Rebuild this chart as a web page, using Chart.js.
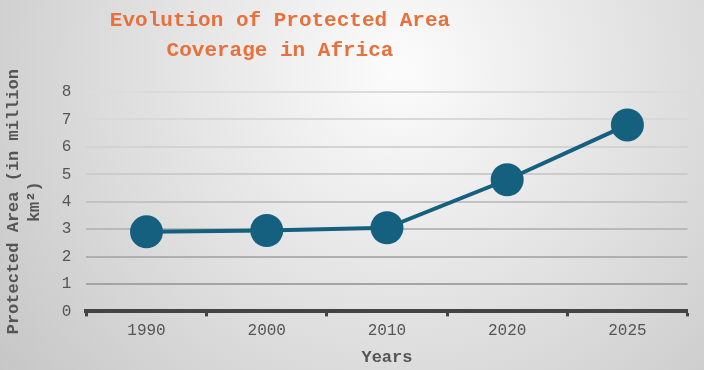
<!DOCTYPE html>
<html>
<head>
    <meta charset="UTF-8">
    <title>Protected Area Coverage</title>
    <script src="https://cdn.jsdelivr.net/npm/chart.js"></script>
    <style>
        html, body { margin: 0; padding: 0; }
        #wrap { width: 704px; height: 370px; }
    </style>
</head>
<body>
<div id="wrap"><canvas id="chart"></canvas></div>

<script>
    // data
    var years = ['1990', '2000', '2010', '2020', '2025'];
    var areaValues = [2.9, 2.95, 3.05, 4.8, 6.8];
    var titleLines = ['Evolution of Protected Area', 'Coverage in Africa'];
    var yTitleLines = ['Protected Area (in million', 'km²)'];

    var mono = "'Liberation Mono', 'Courier New', monospace";

    // radial grey background
    var bgPlugin = {
        id: 'bg',
        beforeDraw: function (chart) {
            var c = chart.ctx;
            var g = c.createRadialGradient(400, 70, 10, 400, 70, 520);
            g.addColorStop(0, '#fbfbfb');
            g.addColorStop(1, '#c4c4c4');
            c.save();
            c.fillStyle = g;
            c.fillRect(0, 0, chart.width, chart.height);
            c.restore();
        }
    };

    // chart title, centred left of middle like the original
    var titlePlugin = {
        id: 'titleText',
        afterDraw: function (chart) {
            var c = chart.ctx;
            c.save();
            c.fillStyle = '#e8703a';
            c.font = 'bold 21px ' + mono;
            c.textAlign = 'center';
            c.textBaseline = 'middle';
            for (var i = 0; i < titleLines.length; i++) {
                c.fillText(titleLines[i], 280, 21 + i * 30);
            }
            c.restore();
        }
    };

    var gridColors = ['#9a9a9a', '#a4a4a4', '#afafaf', '#b9b9b9', '#c3c3c3', '#cccccc', '#d3d3d3', '#d8d8d8', '#dcdcdc'];

    var ctx = document.getElementById('chart').getContext('2d');
    new Chart(ctx, {
        type: 'line',
        data: {
            labels: years,
            datasets: [{
                data: areaValues,
                borderColor: '#15607f',
                backgroundColor: '#15607f',
                borderWidth: 4,
                pointRadius: 16.5,
                pointHoverRadius: 16.5,
                pointBorderWidth: 0,
                fill: false,
                tension: 0
            }]
        },
        options: {
            responsive: true,
            maintainAspectRatio: false,
            animation: false,
            layout: { padding: { left: 4, right: 8, top: 92, bottom: 2 } },
            plugins: {
                legend: { display: false },
                tooltip: { enabled: false },
                title: { display: false }
            },
            scales: {
                x: {
                    offset: true,
                    grid: {
                        offset: true,
                        drawOnChartArea: false,
                        drawTicks: true,
                        tickLength: 5,
                        tickWidth: 3,
                        color: '#444444'
                    },
                    border: { display: true, color: '#444444', width: 4 },
                    ticks: {
                        color: '#555555',
                        font: { family: mono, size: 16 },
                        padding: 5
                    },
                    title: {
                        display: true,
                        text: 'Years',
                        color: '#555555',
                        font: { family: mono, size: 17, weight: 'bold' },
                        padding: { top: 2, bottom: 0 }
                    }
                },
                y: {
                    min: 0,
                    max: 8,
                    ticks: {
                        stepSize: 1,
                        color: '#555555',
                        font: { family: mono, size: 16 },
                        padding: 15
                    },
                    grid: {
                        drawTicks: false,
                        lineWidth: 2,
                        color: function (c) { return gridColors[c.index] || '#cccccc'; }
                    },
                    border: { display: false },
                    title: {
                        display: true,
                        text: yTitleLines,
                        color: '#555555',
                        font: { family: mono, size: 17, weight: 'bold', lineHeight: 1.2 },
                        padding: { top: 0, bottom: 2 }
                    }
                }
            }
        },
        plugins: [bgPlugin, titlePlugin]
    });
</script>
</body>
</html>
